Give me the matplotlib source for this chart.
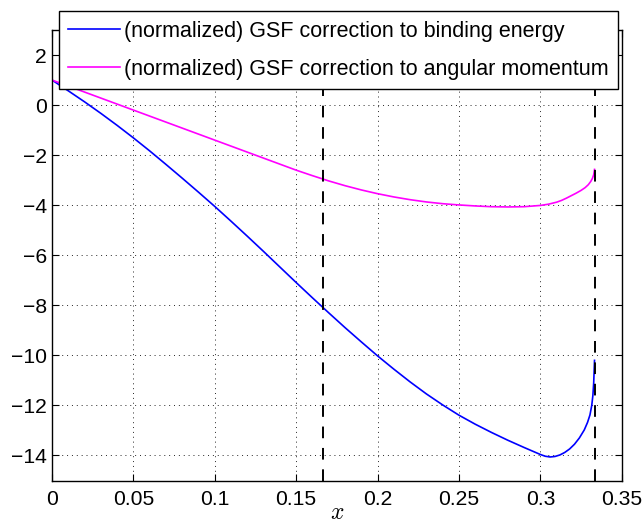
import numpy as np
import matplotlib.pyplot as plt

plt.rcParams.update({
    'font.family': ['Liberation Sans', 'DejaVu Sans'],
    'font.size': 15.2,
    'mathtext.fontset': 'cm',
    'axes.linewidth': 1.0,
    'xtick.direction': 'in',
    'ytick.direction': 'in',
    'xtick.top': True,
    'ytick.right': True,
    'xtick.major.size': 5,
    'ytick.major.size': 5,
    'xtick.major.pad': 7.0,
    'ytick.major.pad': 3.8,
    'text.color': 'black',
})

# GSF correction to binding energy (normalized)
x_energy = [0.0, 0.01, 0.02, 0.03, 0.04, 0.05, 0.06, 0.07, 0.08, 0.09, 0.10,
            0.11, 0.12, 0.13, 0.14, 0.15, 0.16, 0.17, 0.18, 0.19, 0.20,
            0.21, 0.22, 0.23, 0.24, 0.25, 0.26, 0.27, 0.28, 0.29, 0.295,
            0.30, 0.303, 0.306, 0.309, 0.312, 0.315, 0.318, 0.321, 0.324,
            0.327, 0.329, 0.3305, 0.3316, 0.3323, 0.3328, 0.3333]
y_energy = [1.00, 0.57, 0.13, -0.33, -0.81, -1.31, -1.83, -2.37, -2.92, -3.48, -4.05,
            -4.64, -5.24, -5.85, -6.47, -7.09, -7.70, -8.30, -8.89, -9.46, -10.02,
            -10.55, -11.06, -11.54, -11.98, -12.39, -12.75, -13.08, -13.39, -13.68, -13.82,
            -13.96, -14.03, -14.06, -14.04, -13.98, -13.88, -13.74, -13.55, -13.30,
            -12.98, -12.68, -12.38, -12.00, -11.60, -11.10, -10.20]

# GSF correction to angular momentum (normalized)
x_angmom = [0.0, 0.01, 0.02, 0.03, 0.04, 0.05, 0.06, 0.07, 0.08, 0.09, 0.10,
            0.11, 0.12, 0.13, 0.14, 0.15, 0.16, 0.17, 0.18, 0.19, 0.20,
            0.21, 0.22, 0.23, 0.24, 0.25, 0.26, 0.27, 0.28, 0.29, 0.30,
            0.305, 0.31, 0.313, 0.316, 0.319, 0.322, 0.325, 0.3275, 0.3295,
            0.331, 0.332, 0.3328, 0.3333]
y_angmom = [1.00, 0.76, 0.52, 0.28, 0.04, -0.20, -0.44, -0.68, -0.92, -1.16, -1.40,
            -1.64, -1.88, -2.12, -2.36, -2.60, -2.82, -3.03, -3.22, -3.39, -3.54,
            -3.67, -3.78, -3.87, -3.94, -3.99, -4.03, -4.06, -4.07, -4.06, -4.01,
            -3.96, -3.88, -3.81, -3.72, -3.62, -3.52, -3.41, -3.30, -3.18,
            -3.05, -2.93, -2.78, -2.57]

labels = ['(normalized) GSF correction to binding energy',
          '(normalized) GSF correction to angular momentum']
vlines_x = [1 / 6, 1 / 3]
xticks = [0, 0.05, 0.1, 0.15, 0.2, 0.25, 0.3, 0.35]
xticklabels = ['0', '0.05', '0.1', '0.15', '0.2', '0.25', '0.3', '0.35']
yticks = [-14, -12, -10, -8, -6, -4, -2, 0, 2]

W, H = 643, 523
fig = plt.figure(figsize=(W / 100, H / 100), dpi=100)
ax = fig.add_axes([52 / W, 1 - 480.5 / H, (621.7 - 52) / W, (480.5 - 30) / H])

l1, = ax.plot(x_energy, y_energy, color=(0, 0, 1), lw=1.2)
l2, = ax.plot(x_angmom, y_angmom, color=(1, 0, 1), lw=1.2)
for xv in vlines_x:
    ax.axvline(xv, color='black', lw=1.4, linestyle=(0, (6, 5)), zorder=3)

ax.set_xlim(0, 0.35)
ax.set_ylim(-15, 3)
ax.set_xticks(xticks)
ax.set_xticklabels(xticklabels)
ax.set_yticks(yticks)
ax.grid(True, color='0.15', linestyle=(0, (1, 4)), lw=0.7)
ax.set_xlabel(r'$x$', fontsize=17, labelpad=-5)

leg = fig.legend([l1, l2], labels, loc='upper left',
                 bbox_to_anchor=(59 / W, 1 - 11.5 / H), fancybox=False,
                 framealpha=1, edgecolor='black', borderpad=0.42,
                 labelspacing=0.8, handlelength=2.4, handletextpad=0.2,
                 borderaxespad=0, fontsize=15.5)
leg.get_frame().set_linewidth(1.0)

fig.savefig('out.png', dpi=100)
